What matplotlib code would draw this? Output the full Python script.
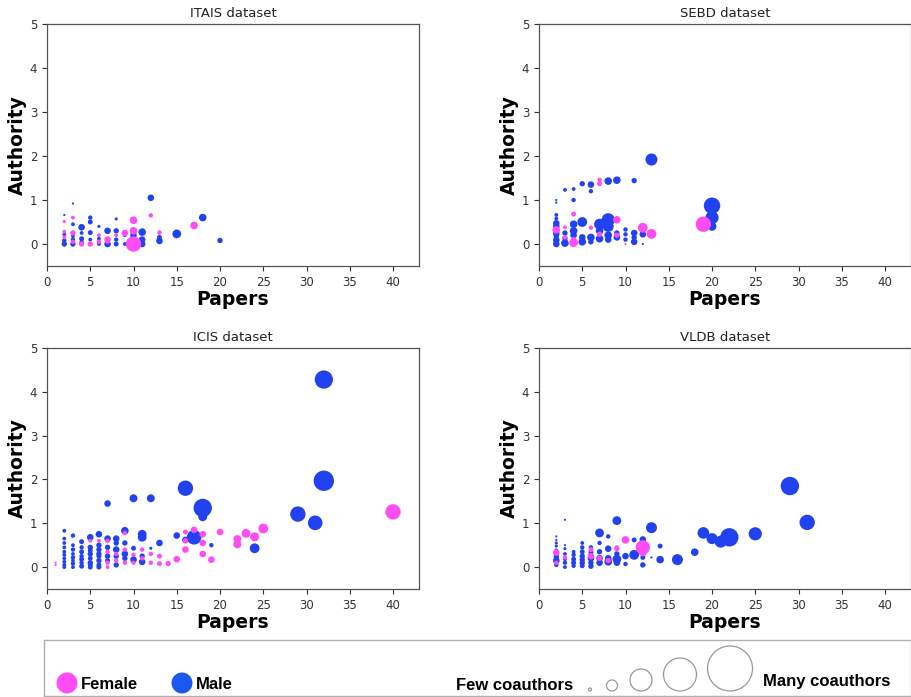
import matplotlib
matplotlib.use("Agg")
import matplotlib.pyplot as plt
from matplotlib.patches import Circle

# ---- data ----
# ITAIS
itais_papers = [2, 2, 2, 2, 2, 2, 2,
                3, 3, 3, 3, 3, 3, 3, 3,
                4, 4, 4, 4, 4,
                5, 5, 5, 5, 5,
                6, 6, 6, 6, 6,
                7, 7, 7, 7,
                8, 8, 8, 8, 8,
                9, 9, 9,
                10, 10, 10, 10,
                11, 11, 11,
                12, 12,
                13, 13, 13,
                15, 17, 18, 20]
itais_auth = [0.66, 0.51, 0.28, 0.22, 0.15, 0.08, 0.0,
              0.92, 0.6, 0.45, 0.25, 0.18, 0.1, 0.05, 0.0,
              0.38, 0.25, 0.12, 0.05, 0.0,
              0.6, 0.5, 0.26, 0.1, 0.0,
              0.4, 0.2, 0.12, 0.05, 0.0,
              0.3, 0.1, 0.05, 0.0,
              0.57, 0.3, 0.2, 0.1, 0.0,
              0.25, 0.2, 0.0,
              0.54, 0.3, 0.2, 0.0,
              0.27, 0.1, 0.0,
              1.05, 0.65,
              0.26, 0.15, 0.07,
              0.23, 0.42, 0.6, 0.08]
itais_coauth = [1, 2, 3, 3, 3, 4, 6,
                1, 3, 3, 6, 3, 4, 4, 6,
                9, 3, 5, 4, 6,
                4, 5, 5, 3, 6,
                2, 3, 3, 4, 3,
                9, 9, 4, 9,
                2, 6, 3, 4, 5,
                9, 3, 3,
                12, 12, 9, 49,
                12, 9, 9,
                9, 4,
                4, 5, 9,
                16, 12, 12, 6]
itais_gender = list("MFFMFMM" "MFMFMMFM" "MMMMF" "MMMMF" "MFMFM" "MFFM"
                    "MMFMM" "FMM" "FFMF" "MMM" "MF" "FMM" "MFMM")

# SEBD
sebd_papers = [2] * 11 + [3] * 6 + [4] * 8 + [5] * 4 + [6] * 5 + [7] * 6 + \
              [8] * 5 + [9] * 5 + [10] * 4 + [11] * 4 + [12] * 3 + [13] * 2 + \
              [19] + [20] * 3
sebd_auth = [1.0, 0.94, 0.66, 0.58, 0.47, 0.4, 0.32, 0.24, 0.18, 0.09, 0.0,
             1.23, 0.38, 0.25, 0.15, 0.13, 0.02,
             1.25, 1.0, 0.68, 0.45, 0.3, 0.2, 0.1, 0.03,
             1.37, 0.5, 0.15, 0.05,
             1.35, 1.2, 0.37, 0.15, 0.05,
             1.46, 1.37, 0.45, 0.3, 0.22, 0.12,
             1.43, 0.55, 0.4, 0.2, 0.1,
             1.45, 0.55, 0.25, 0.2, 0.15,
             0.33, 0.22, 0.1, 0.0,
             1.44, 0.25, 0.15, 0.05,
             0.37, 0.22, 0.0,
             1.92, 0.23,
             0.45,
             0.87, 0.6, 0.4]
sebd_coauth = [1, 1, 3, 3, 9, 9, 12, 9, 6, 9, 9,
               3, 3, 6, 4, 6, 12,
               3, 4, 5, 12, 12, 9, 6, 16,
               6, 20, 9, 12,
               9, 4, 4, 12, 6,
               4, 5, 25, 12, 6, 12,
               12, 36, 25, 12, 9,
               12, 12, 6, 6, 9,
               4, 4, 4, 1,
               6, 9, 6, 9,
               20, 9, 1,
               30, 20,
               49,
               56, 36, 16]
sebd_gender = list("MMMMMMFMMMM" "MFMFMM" "MMFMMMFF" "MMMM" "MMFMM" "FFMMFM"
                   "MMMMM" "MFMFM" "MMMF" "MMMM" "FMM" "MF" "F" "MMM")

# ICIS
icis_papers = [1, 1] + [2] * 10 + [3] * 8 + [4] * 7 + [5] * 9 + [6] * 9 + \
              [7] * 9 + [8] * 7 + [9] * 7 + [10] * 5 + [11] * 6 + [12] * 4 + \
              [13] * 3 + [14] + [15] * 2 + [16] * 5 + [17] * 2 + [18] * 5 + \
              [19] * 2 + [20] + [22] * 2 + [23] + [24] * 2 + [25] + [29] + \
              [31] + [32] * 2 + [40]
icis_auth = [0.05, 0.1,
             0.83, 0.65, 0.55, 0.45, 0.35, 0.28, 0.2, 0.12, 0.05, 0.0,
             0.72, 0.5, 0.4, 0.3, 0.22, 0.15, 0.08, 0.0,
             0.58, 0.45, 0.35, 0.25, 0.18, 0.1, 0.02,
             0.68, 0.6, 0.45, 0.38, 0.3, 0.2, 0.1, 0.05, 0.0,
             0.75, 0.6, 0.5, 0.4, 0.3, 0.25, 0.15, 0.05, 0.0,
             1.45, 0.65, 0.6, 0.45, 0.35, 0.25, 0.15, 0.1, 0.0,
             0.65, 0.55, 0.4, 0.3, 0.25, 0.15, 0.05,
             0.83, 0.78, 0.55, 0.4, 0.3, 0.2, 0.1,
             1.57, 0.43, 0.28, 0.17, 0.1,
             0.75, 0.68, 0.4, 0.25, 0.2, 0.12,
             1.57, 0.43, 0.3, 0.1,
             0.55, 0.25, 0.08,
             0.08,
             0.72, 0.18,
             1.8, 0.8, 0.62, 0.6, 0.4,
             0.85, 0.68,
             1.35, 1.15, 0.75, 0.55, 0.3,
             0.5, 0.17,
             0.8,
             0.64, 0.52,
             0.77,
             0.69, 0.43,
             0.88,
             1.21,
             1.01,
             4.28, 1.97,
             1.26]
icis_coauth = [1, 1,
               3, 3, 3, 3, 3, 3, 3, 3, 3, 3,
               4, 3, 4, 3, 4, 3, 4, 3,
               5, 4, 5, 4, 5, 4, 5,
               9, 3, 6, 5, 6, 5, 6, 5, 5,
               9, 3, 6, 6, 6, 5, 6, 5, 5,
               9, 9, 4, 6, 4, 6, 5, 4, 3,
               9, 6, 9, 4, 6, 4, 6,
               12, 4, 6, 4, 9, 6, 4,
               13, 5, 4, 9, 4,
               16, 16, 4, 6, 4, 9,
               13, 2, 4, 4,
               9, 5, 5,
               6,
               9, 9,
               49, 5, 9, 6, 9,
               9, 44,
               70, 17, 9, 9, 9,
               4, 9,
               9,
               13, 13,
               16,
               17, 20,
               20,
               49,
               44,
               69, 86,
               49]
icis_gender = list("FF" "MMMMMMMMMM" "MMMMMMMM" "MMMMMMM" "MFMMMMMMM"
                   "MFMMMMMMM" "MMFMFMMFF" "MMMFMFM" "MFMFMMF" "MMFMF"
                   "MMFMFM" "MMFF" "MFF" "F" "MF" "MFMFF" "FM" "MMFFF"
                   "MF" "F" "FF" "F" "FM" "F" "M" "M" "MM" "F")

# VLDB
vldb_papers = [2] * 11 + [3] * 8 + [4] * 5 + [5] * 7 + [6] * 7 + [7] * 6 + \
              [8] * 5 + [9] * 6 + [10] * 3 + [11] * 2 + [12] * 7 + [13] * 2 + \
              [14] * 2 + [16, 18, 19, 20, 21, 22, 25, 29, 31]
vldb_auth = [0.7, 0.62, 0.55, 0.48, 0.38, 0.33, 0.25, 0.2, 0.15, 0.1, 0.05,
             1.08, 0.5, 0.42, 0.3, 0.22, 0.18, 0.1, 0.0,
             0.35, 0.28, 0.18, 0.1, 0.03,
             0.55, 0.45, 0.35, 0.25, 0.17, 0.1, 0.03,
             0.45, 0.4, 0.33, 0.25, 0.2, 0.1, 0.02,
             0.78, 0.55, 0.35, 0.2, 0.2, 0.1,
             0.7, 0.42, 0.15, 0.2, 0.12,
             1.06, 0.45, 0.42, 0.3, 0.18, 0.1,
             0.62, 0.25, 0.07,
             0.62, 0.28,
             0.63, 0.55, 0.45, 0.36, 0.35, 0.22, 0.05,
             0.9, 0.22,
             0.48, 0.17,
             0.17, 0.34, 0.78, 0.65, 0.58, 0.68, 0.76, 1.85, 1.02]
vldb_coauth = [1, 1, 2, 2, 3, 9, 6, 6, 9, 4, 4,
               1, 1, 2, 3, 4, 3, 4, 3,
               3, 4, 5, 5, 4,
               3, 4, 5, 6, 6, 6, 5,
               4, 5, 5, 9, 9, 6, 6,
               16, 4, 6, 6, 9, 9,
               4, 9, 6, 9, 12,
               16, 4, 6, 6, 16, 9,
               12, 9, 4,
               5, 20,
               9, 9, 42, 4, 16, 5, 6,
               25, 1,
               5, 12,
               25, 12, 28, 25, 30, 70, 36, 70, 49]
vldb_gender = list("MMMMMFMMMFM" "MMMMFMMM" "MMMMM" "MMMMMMM" "MFMFMMM"
                   "MMMFMM" "MMFMM" "MFFMMM" "FMM" "MM" "MMFMFMM" "MM" "MM"
                   "MMMMMMMMM")

datasets = [("ITAIS dataset", itais_papers, itais_auth, itais_coauth, itais_gender),
            ("SEBD dataset", sebd_papers, sebd_auth, sebd_coauth, sebd_gender),
            ("ICIS dataset", icis_papers, icis_auth, icis_coauth, icis_gender),
            ("VLDB dataset", vldb_papers, vldb_auth, vldb_coauth, vldb_gender)]

female_color = '#ff4cf4'
male_color = '#2242f0'

W, H = 912, 697
fig = plt.figure(figsize=(W / 100, H / 100), dpi=100)

# axes boxes in pixels: (left, top, right, bottom)
boxes = [(47, 24, 419, 266), (539, 24, 911, 266),
         (47, 348, 419, 589), (539, 348, 911, 589)]

for (title, papers, auth, coauth, gender), (l, t, r, b) in zip(datasets, boxes):
    ax = fig.add_axes([l / W, 1 - b / H, (r - l) / W, (b - t) / H])
    for g, col in (("M", male_color), ("F", female_color)):
        xs = [p for p, gg in zip(papers, gender) if gg == g]
        ys = [a for a, gg in zip(auth, gender) if gg == g]
        ss = [c * 2.5 for c, gg in zip(coauth, gender) if gg == g]
        ax.scatter(xs, ys, s=ss, color=col, edgecolors='none')
    ax.set_xlim(0, 43)
    ax.set_ylim(-0.5, 5)
    ax.set_xticks(range(0, 41, 5))
    ax.set_yticks(range(0, 6))
    ax.tick_params(labelsize=8.5, colors='#333333', length=3.5, width=0.8)
    for sp in ax.spines.values():
        sp.set_color('#555555')
        sp.set_linewidth(0.9)
    ax.set_title(title, fontsize=9.5, color='#222222', pad=5)
    ax.set_xlabel('Papers', fontsize=13.5, fontweight='bold', labelpad=1)
    ax.set_ylabel('Authority', fontsize=13.5, fontweight='bold', labelpad=2)

# ---- legend box ----
lax = fig.add_axes([44 / W, 1 / H, 867 / W, 56 / H])
lax.set_xlim(44, 911)
lax.set_ylim(696, 640)
lax.set_xticks([])
lax.set_yticks([])
for sp in lax.spines.values():
    sp.set_color('#b0b0b0')
    sp.set_linewidth(1.0)

lfont = dict(fontsize=12, fontweight='bold', family=['Liberation Sans Narrow', 'Liberation Sans'],
             va='center', ha='left')
lax.add_patch(Circle((67, 683), 10.5, color=female_color, ec='none'))
lax.text(81, 684, 'Female', **lfont)
lax.add_patch(Circle((182, 683), 10.5, color='#1c58f0', ec='none'))
lax.text(196, 684, 'Male', **lfont)
lax.text(456, 685, 'Few coauthors', **lfont)
size_radii = [1.5, 5.5, 11, 16.5, 22.5]
size_x = [590, 612, 641, 680, 730]
for cx, rr in zip(size_x, size_radii):
    lax.add_patch(Circle((cx, 691 - rr), rr, fill=False, ec='#999999', lw=0.9))
lax.text(763, 681, 'Many coauthors', **lfont)

fig.savefig('out.png', dpi=100)
